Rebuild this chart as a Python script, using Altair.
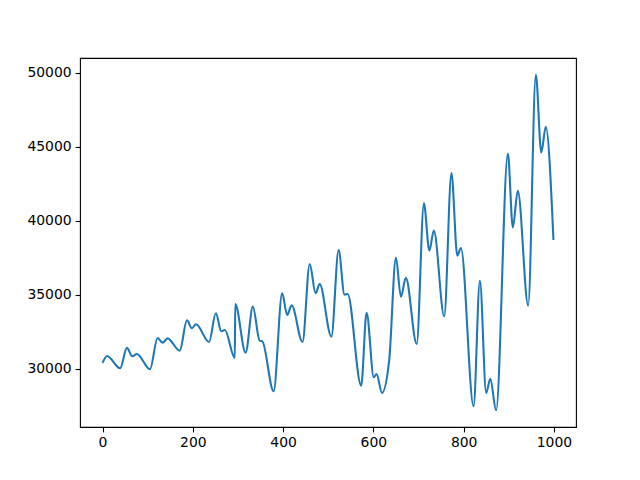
import altair as alt
import pandas as pd

xs = [0, 10, 39, 54, 66, 76, 105, 122, 133, 144, 171, 187, 198, 207, 236, 251,
      263, 271, 293, 294, 317, 333, 348, 354, 379, 398, 409, 419, 443, 459,
      472, 481, 507, 523, 536, 543, 573, 585, 601, 607, 619, 635, 650, 661,
      672, 696, 712, 724, 734, 757, 773, 786, 794, 822, 836, 850, 859, 872,
      898, 909, 920, 943, 960, 972, 982, 999]
ys = [30400, 30870, 30040, 31420, 30850, 31010, 29980, 32090, 31770, 32060,
      31230, 33280, 32740, 33010, 31820, 33750, 32540, 32630, 30740, 34380,
      31100, 34200, 31910, 31860, 28490, 35100, 33640, 34290, 31810, 37080,
      35100, 35730, 32180, 38020, 35010, 35060, 28870, 33780, 29430, 29660,
      28380, 30560, 37500, 34870, 36140, 31690, 41170, 37980, 39330, 33550,
      43220, 37640, 38160, 27480, 35950, 28380, 29330, 27210, 44540, 39550,
      42020, 34270, 49850, 44600, 46340, 38700]
x_ticks = [0, 200, 400, 600, 800, 1000]
y_ticks = [30000, 35000, 40000, 45000, 50000]

df = pd.DataFrame({"x": xs, "y": ys})

xmin, xmax = min(xs), max(xs)
ymin, ymax = min(ys), max(ys)
xm = (xmax - xmin) * 0.05
ym = (ymax - ymin) * 0.05

axis_common = dict(
    grid=False,
    domain=False,
    tickColor="black",
    tickWidth=1.1,
    tickSize=4.9,
    labelColor="black",
    labelFont="DejaVu Sans",
    labelFontSize=13.9,
    labelPadding=4,
    title=None,
)

chart = alt.Chart(df).mark_line(
    color="#1f77b4", strokeWidth=2.08, interpolate="monotone"
).encode(
    x=alt.X("x:Q",
            scale=alt.Scale(domain=[xmin - xm, xmax + xm], nice=False, zero=False),
            axis=alt.Axis(values=x_ticks, format="d", labelFlush=False,
                          minExtent=30, maxExtent=30, **axis_common)),
    y=alt.Y("y:Q",
            scale=alt.Scale(domain=[ymin - ym, ymax + ym], nice=False, zero=False),
            axis=alt.Axis(values=y_ticks, format="d", labelFlush=False,
                          minExtent=60, maxExtent=60, **axis_common)),
).properties(
    width=496,
    height=369,
    padding={"left": 12, "top": 50, "right": 10, "bottom": 10},
).configure_view(
    stroke="black", strokeWidth=1.1
)

chart.save("out.html", embed_options={"renderer": "svg", "actions": False})
